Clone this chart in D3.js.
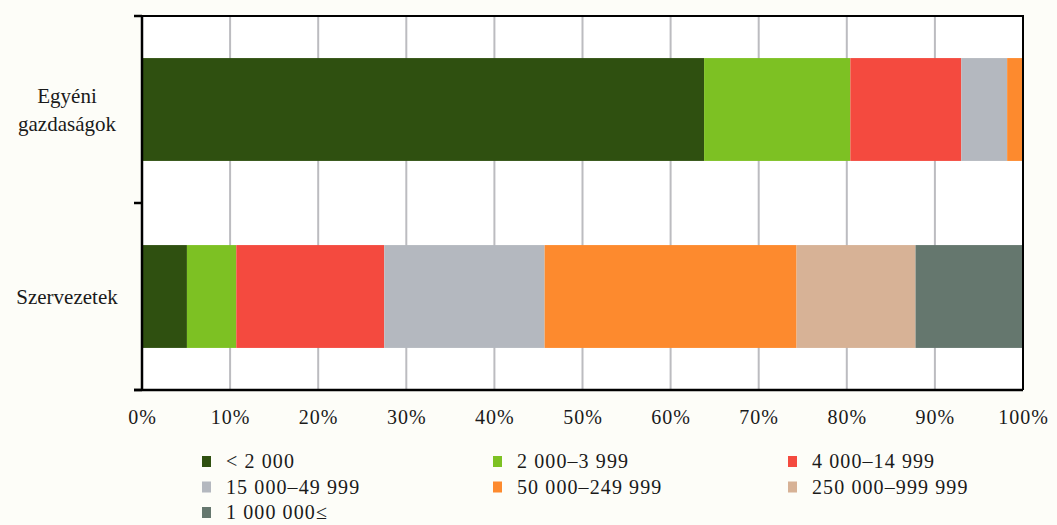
<!DOCTYPE html>
<html>
<head>
<meta charset="utf-8">
<script src="https://cdn.jsdelivr.net/npm/d3@7"></script>
<style>
  body { margin: 0; background: #fdfdf8; }
</style>
</head>
<body>
<div id="chart"></div>
<script>
/* Stacked 100% bar chart: size classes by holding type */

const categories = [["Egyéni", "gazdaságok"], ["Szervezetek"]];
const catKeys = ["Egyéni gazdaságok", "Szervezetek"];
const classes = ["< 2 000", "2 000–3 999", "4 000–14 999", "15 000–49 999",
                 "50 000–249 999", "250 000–999 999", "1 000 000≤"];
const colors = ["#2f5010", "#7dc123", "#f44a3f", "#b4b8bf", "#fd8a2e", "#d7b296", "#65776e"];
const egyeniValues = [63.8, 16.6, 12.6, 5.2, 1.8, 0, 0];
const szervezetValues = [5.1, 5.6, 16.8, 18.2, 28.6, 13.5, 12.2];
const tickValues = [0, 10, 20, 30, 40, 50, 60, 70, 80, 90, 100];

const serif = "'Liberation Serif', 'Times New Roman', serif";

const width = 1057, height = 525,
      margin = ({ top: 16, right: 34, bottom: 135, left: 142 });

const svg = d3.select("#chart")
    .append("svg")
    .attr("width", width)
    .attr("height", height)
    .style("font-family", serif);

// build rows for the stack
const rows = catKeys.map((k, i) => {
    const vals = i === 0 ? egyeniValues : szervezetValues;
    const row = { cat: k };
    classes.forEach((c, j) => row[c] = vals[j]);
    return row;
});
const series = d3.stack().keys(classes)(rows);

const x = d3.scaleLinear()
    .domain([0, 100])
    .range([margin.left, width - margin.right]);

const y = d3.scaleBand()
    .domain(catKeys)
    .range([margin.top, height - margin.bottom])
    .paddingInner(0.45)
    .paddingOuter(0.225);

// plot background
svg.append("rect")
    .attr("x", x(0)).attr("y", margin.top)
    .attr("width", x(100) - x(0))
    .attr("height", height - margin.bottom - margin.top)
    .attr("fill", "#ffffff");

// vertical gridlines
svg.append("g")
    .selectAll("line")
    .data(tickValues.slice(1, -1))
    .join("line")
    .attr("x1", d => x(d)).attr("x2", d => x(d))
    .attr("y1", margin.top).attr("y2", height - margin.bottom)
    .attr("stroke", "#bcbcc0")
    .attr("stroke-width", 2);

// bars
svg.append("g")
    .selectAll("g")
    .data(series)
    .join("g")
    .attr("fill", (d, i) => colors[i])
    .selectAll("rect")
    .data(d => d)
    .join("rect")
    .attr("x", d => x(d[0]))
    .attr("y", d => y(d.data.cat))
    .attr("width", d => x(d[1]) - x(d[0]))
    .attr("height", y.bandwidth());

// frame: top and right border
svg.append("path")
    .attr("d", `M${x(0) - 8},${margin.top}H${x(100)}V${height - margin.bottom}`)
    .attr("fill", "none")
    .attr("stroke", "#000")
    .attr("stroke-width", 2);

// left axis with ticks between categories
const bandStep = (height - margin.bottom - margin.top) / 2;
svg.append("g")
    .attr("stroke", "#000")
    .attr("stroke-width", 2.5)
    .call(g => g.append("line")
        .attr("x1", x(0)).attr("x2", x(0))
        .attr("y1", margin.top).attr("y2", height - margin.bottom))
    .selectAll(".tick")
    .data([0, 1, 2])
    .join("line")
    .attr("x1", x(0) - 8).attr("x2", x(0))
    .attr("y1", d => margin.top + d * bandStep)
    .attr("y2", d => margin.top + d * bandStep);

// bottom axis
const xAxis = svg.append("g")
    .attr("transform", `translate(0,${height - margin.bottom})`)
    .call(d3.axisBottom(x).tickValues(tickValues).tickSize(0).tickPadding(20)
        .tickFormat(d => d + "%"));
xAxis.attr("font-family", null).attr("font-size", null);
xAxis.select(".domain")
    .attr("d", `M${x(0) - 8},0H${x(100)}`)
    .attr("stroke", "#000")
    .attr("stroke-width", 2.5);
xAxis.selectAll("text")
    .style("font-size", "20px")
    .style("letter-spacing", "1px")
    .attr("fill", "#1a1a1a");

// category labels
svg.append("g")
    .selectAll("text")
    .data(catKeys)
    .join("text")
    .attr("text-anchor", "middle")
    .attr("x", 67)
    .attr("y", d => y(d) + y.bandwidth() / 2)
    .attr("fill", "#1a1a1a")
    .style("font-size", "21px")
    .each(function(d, i) {
        const lines = categories[i];
        const t = d3.select(this);
        lines.forEach((l, j) => {
            t.append("tspan")
                .attr("x", 67)
                .attr("dy", j === 0 ? (0.35 - (lines.length - 1) * 0.68) + "em" : "1.36em")
                .text(l);
        });
    });

// legend
const legendCols = [202, 493, 788];
const legend = svg.append("g")
    .selectAll("g")
    .data(classes)
    .join("g")
    .attr("transform", (d, i) => `translate(${legendCols[i % 3]},${461 + Math.floor(i / 3) * 25.5})`);

legend.append("rect")
    .attr("x", 0).attr("y", -5)
    .attr("width", 9).attr("height", 11)
    .attr("fill", (d, i) => colors[i]);

legend.append("text")
    .attr("x", 24)
    .attr("dy", "0.35em")
    .attr("fill", "#1a1a1a")
    .style("font-size", "20px")
    .style("letter-spacing", "1.1px")
    .text(d => d);
</script>
</body>
</html>
